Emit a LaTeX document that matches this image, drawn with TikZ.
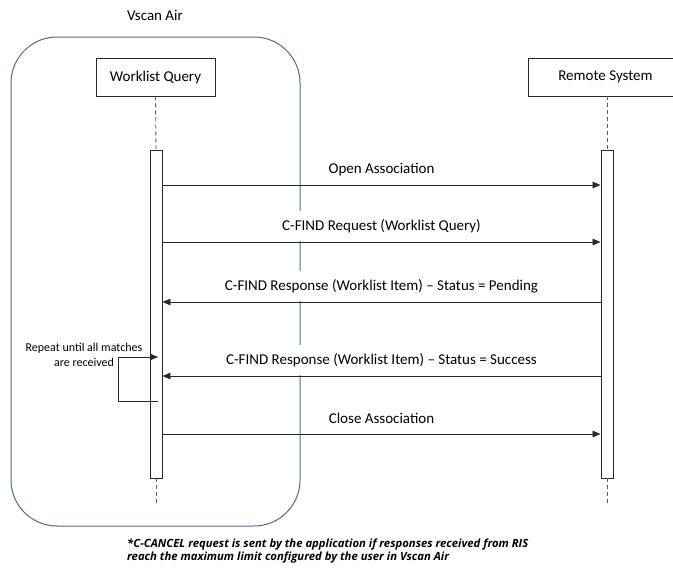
\documentclass[tikz,border=0pt]{standalone}
\usepackage{fontspec}
\setmainfont{Carlito}
\newfontfamily\notefont{Open Sans}
\usetikzlibrary{arrows.meta,calc}
\definecolor{framecol}{RGB}{88,104,136}
\definecolor{linecol}{RGB}{40,40,40}
\definecolor{dashcol}{RGB}{90,90,90}
\tikzset{
  actor/.style={draw=linecol,line width=0.9pt,fill=white,minimum height=38,inner sep=0pt,font=\fontsize{15}{18}\selectfont},
  bar/.style={draw=linecol,line width=0.9pt,fill=white,minimum width=12,minimum height=328,inner sep=0pt},
  lifeline/.style={draw=dashcol,line width=0.9pt,dash pattern=on 4pt off 3pt},
  msg/.style={draw=linecol,line width=0.8pt,-{Triangle[length=8pt,width=6.5pt]}},
  msglabel/.style={fill=white,inner xsep=4pt,inner ysep=0pt,minimum height=30,anchor=south,font=\fontsize{15}{18}\selectfont},
  frame/.style={draw=framecol,line width=1pt,rounded corners=46},
}
\begin{document}
\begin{tikzpicture}[x=1pt,y=-1pt]
\clip (0,0) rectangle (673,568);
\fill[white] (0,0) rectangle (673,568);
% frame
\draw[frame] (11,37) rectangle (300,526);
\node[font=\fontsize{15}{18}\selectfont] (title) at (155,15) {Vscan Air};
% actors
\node[actor,minimum width=119] (wq) at (155.5,77) {Worklist Query};
\node[actor,minimum width=158] (rs) at (607,77) {\hspace*{-3pt}Remote System};
% bars
\node[bar] (barL) at (156,314) {};
\node[bar] (barR) at (607,314) {};
\coordinate (endL) at (156,503);
\coordinate (endR) at (607,503);
\draw[lifeline] (wq.south) -- (barL.north);
\draw[lifeline] (rs.south) -- (barR.north);
\draw[lifeline] (barL.south) -- (endL);
\draw[lifeline] (barR.south) -- (endR);
% message rows
\coordinate (m1) at (0,185);
\coordinate (m2) at (0,242);
\coordinate (m3) at (0,302);
\coordinate (m4) at (0,376);
\coordinate (m5) at (0,434);
\draw[msg] (barL.east |- m1) -- (barR.west |- m1);
\draw[msg] (barL.east |- m2) -- (barR.west |- m2);
\draw[msg] (barR.west |- m3) -- (barL.east |- m3);
\draw[msg] (barR.west |- m4) -- (barL.east |- m4);
\draw[msg] (barL.east |- m5) -- (barR.west |- m5);
\node[msglabel] (l1) at ($(barL.east |- m1)!0.5!(barR.west |- m1)+(0,-0.6)$) {Open Association};
\node[msglabel] (l2) at ($(barL.east |- m2)!0.5!(barR.west |- m2)+(0,-0.6)$) {C-FIND Request (Worklist Query)};
\node[msglabel] (l3) at ($(barL.east |- m3)!0.5!(barR.west |- m3)+(0,-0.6)$) {C-FIND Response (Worklist Item) -- Status = Pending};
\node[msglabel] (l4) at ($(barL.east |- m4)!0.5!(barR.west |- m4)+(0,-0.6)$) {C-FIND Response (Worklist Item) -- Status = Success};
\node[msglabel] (l5) at ($(barL.east |- m5)!0.5!(barR.west |- m5)+(0,-0.6)$) {Close Association};
% repeat loop
\coordinate (lpA) at (158,357);
\coordinate (lpB) at (158,401);
\coordinate (lpC) at (118,357);
\coordinate (lpD) at (118,401);
\draw[msg] (lpB) -- (lpD) -- (lpC) -- (lpA);
\node[align=center,font=\fontsize{12}{15}\selectfont,inner sep=0pt] (rep) at (84,355) {Repeat until all matches\\are received};
% footnote
\node[align=left,anchor=west,inner sep=0pt,font=\fontsize{11.3}{13}\notefont\bfseries\itshape] (note) at (127,551.5) {*C-CANCEL request is sent by the application if responses received from RIS\\reach the maximum limit configured by the user in Vscan Air};
\end{tikzpicture}
\end{document}
